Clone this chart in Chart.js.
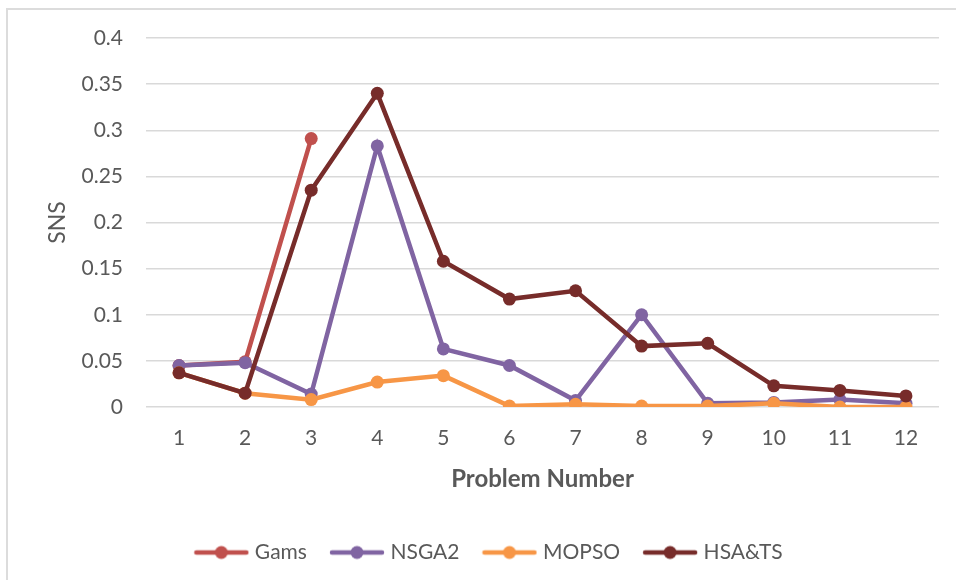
<!DOCTYPE html>
<html>
<head>
<meta charset="utf-8">
<script src="https://cdn.jsdelivr.net/npm/chart.js@4/dist/chart.umd.min.js"></script>
<style>
  html, body { margin: 0; padding: 0; background: #ffffff; }
  #wrap { position: relative; width: 956px; height: 580px; overflow: hidden; }
  #frame { position: absolute; left: 6px; top: 8px; width: 1000px; height: 1000px;
           border-left: 2px solid #dcdcdc; border-top: 2px solid #dcdcdc; pointer-events: none; }
  canvas { position: absolute; left: 0; top: 0; }
</style>
</head>
<body>
<div id="wrap">
  <canvas id="c" width="956" height="580"></canvas>
  <div id="frame"></div>
</div>
<script>
const categories = ['1','2','3','4','5','6','7','8','9','10','11','12'];
const gams   = [0.045, 0.049, 0.291, null, null, null, null, null, null, null, null, null];
const nsga2  = [0.045, 0.048, 0.014, 0.283, 0.063, 0.045, 0.007, 0.100, 0.004, 0.005, 0.008, 0.004];
const mopso  = [0.037, 0.015, 0.008, 0.027, 0.034, 0.001, 0.003, 0.001, 0.001, 0.004, 0.000, 0.000];
const hsats  = [0.037, 0.015, 0.235, 0.340, 0.158, 0.117, 0.126, 0.066, 0.069, 0.023, 0.018, 0.012];
const seriesNames = ['Gams', 'NSGA2', 'MOPSO', 'HSA&TS'];
const seriesColors = ['#C0504D', '#8064A2', '#F79646', '#772C2A'];
const yTicks = [0, 0.05, 0.1, 0.15, 0.2, 0.25, 0.3, 0.35, 0.4];

const FONT = 'Lato, "Noto Sans", sans-serif';
const TXT = '#595959';

function legendIcon(color) {
  const cv = document.createElement('canvas');
  cv.width = 56; cv.height = 16;
  const g = cv.getContext('2d');
  g.strokeStyle = color; g.lineWidth = 4.5; g.lineCap = 'round';
  g.beginPath(); g.moveTo(3, 8); g.lineTo(53, 8); g.stroke();
  g.fillStyle = color;
  g.beginPath(); g.arc(28, 8, 6.5, 0, Math.PI * 2); g.fill();
  return cv;
}
const icons = seriesColors.map(legendIcon);

const allSeries = [gams, nsga2, mopso, hsats];
const datasets = allSeries.map((d, i) => ({
  label: seriesNames[i],
  data: d,
  order: allSeries.length - 1 - i,
  borderColor: seriesColors[i],
  backgroundColor: seriesColors[i],
  borderWidth: 4.5,
  pointRadius: 6.5,
  pointHoverRadius: 6.5,
  pointBorderWidth: 0,
  pointBackgroundColor: seriesColors[i],
  tension: 0,
  spanGaps: false,
  pointStyle: 'circle'
}));

new Chart(document.getElementById('c'), {
  type: 'line',
  data: { labels: categories, datasets },
  options: {
    responsive: false,
    animation: false,
    devicePixelRatio: 1,
    layout: { padding: { left: 42, right: 17, top: 38, bottom: 7 } },
    plugins: {
      tooltip: { enabled: false },
      legend: {
        position: 'bottom',
        labels: {
          usePointStyle: true,
          pointStyleWidth: 46,
          padding: 27,
          color: TXT,
          font: { family: FONT, size: 21 },
          generateLabels: (chart) => chart.data.datasets.map((ds, i) => ({
            text: ds.label,
            fillStyle: ds.borderColor,
            strokeStyle: ds.borderColor,
            lineWidth: 0,
            pointStyle: icons[i],
            fontColor: TXT,
            hidden: false,
            datasetIndex: i
          }))
        }
      }
    },
    scales: {
      x: {
        offset: true,
        grid: { display: false, drawTicks: false },
        border: { display: false },
        ticks: { color: TXT, font: { family: FONT, size: 21 }, padding: 19, maxRotation: 0 },
        title: { display: true, text: 'Problem Number', color: TXT,
                 font: { family: FONT, size: 24, weight: 'bold' }, padding: { top: 0, bottom: 21 } },
        afterFit: (s) => { s.height = 108; }
      },
      y: {
        min: 0, max: 0.4,
        afterBuildTicks: (s) => { s.ticks = yTicks.map(v => ({ value: v })); },
        grid: { color: '#d9d9d9', lineWidth: 1.5, drawTicks: false },
        border: { display: false },
        ticks: { color: TXT, font: { family: FONT, size: 21 }, padding: 23,
                 callback: (v) => String(Math.round(v * 100) / 100) },
        title: { display: true, text: 'SNS', color: TXT,
                 font: { family: FONT, size: 23 }, padding: { top: 2, bottom: 0 } },
        afterFit: (s) => { s.width = 104; }
      }
    }
  }
});
</script>
</body>
</html>
